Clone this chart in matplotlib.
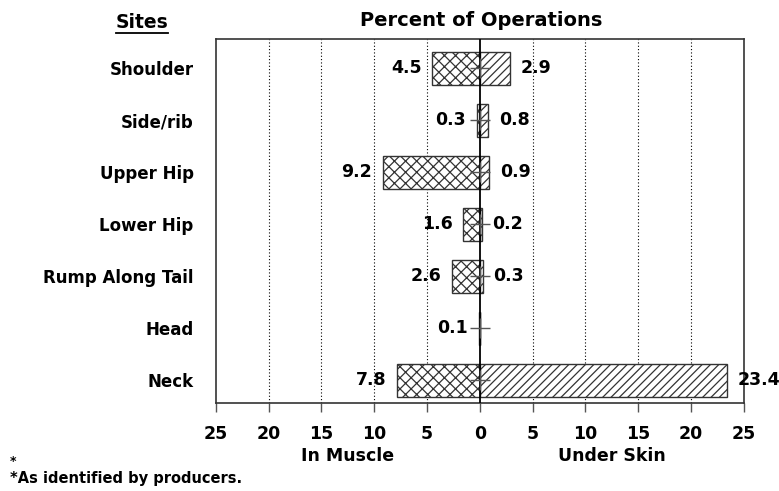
import matplotlib
matplotlib.use("Agg")
import matplotlib.pyplot as plt
import numpy as np

plt.rcParams['font.family'] = ['DejaVu Sans']
plt.rcParams['hatch.linewidth'] = 0.9

sites = ["Shoulder", "Side/rib", "Upper Hip", "Lower Hip", "Rump Along Tail", "Head", "Neck"]
in_muscle = [4.5, 0.3, 9.2, 1.6, 2.6, 0.1, 7.8]
under_skin = [2.9, 0.8, 0.9, 0.2, 0.3, 0.0, 23.4]
tick_vals = [-25, -20, -15, -10, -5, 0, 5, 10, 15, 20, 25]
tick_labels = [str(abs(v)) for v in tick_vals]

fig = plt.figure(figsize=(7.79, 4.91), dpi=100)
ax = fig.add_axes([0.277, 0.179, 0.678, 0.7413])

y = np.arange(len(sites))
h = 0.63
ax.barh(y, [-v for v in in_muscle], height=h, color='white', edgecolor='#333333',
        hatch='xxx', linewidth=1.0, zorder=3)
ax.barh(y, under_skin, height=h, color='white', edgecolor='#333333',
        hatch='////', linewidth=1.0, zorder=3)

ax.axvline(0, color='black', linewidth=1.3, zorder=4)
ax.plot(np.zeros(len(sites)), y, linestyle='none', marker='+', markersize=14,
        color='#555555', markeredgewidth=1.0, zorder=5)

for i, (m, s) in enumerate(zip(in_muscle, under_skin)):
    ax.text(-m - 1.0, i, f"{m:.1f}", ha='right', va='center', fontsize=12.5,
            fontweight='bold', zorder=6)
    if s > 0:
        ax.text(s + 1.0, i, f"{s:.1f}", ha='left', va='center', fontsize=12.5,
                fontweight='bold', zorder=6)

ax.set_xlim(-25, 25)
ax.set_ylim(6.44, -0.56)
ax.set_xticks(tick_vals)
ax.set_xticklabels(tick_labels, fontsize=12.5, fontweight='bold')
ax.set_yticks(y)
ax.set_yticklabels(sites, fontsize=12, fontweight='bold')
ax.tick_params(axis='y', length=0, pad=16)
ax.tick_params(axis='x', length=6.5, width=1, color='#555555', pad=9)
for v in tick_vals:
    if v not in (-25, 0, 25):
        ax.axvline(v, color='black', linestyle=(0, (1, 2)), linewidth=0.8, zorder=1)
for sp in ax.spines.values():
    sp.set_linewidth(1.2)
    sp.set_color('#333333')

fig.text(481 / 779, 1 - 20 / 491, "Percent of Operations", ha='center', va='center',
         fontsize=14, fontweight='bold')
fig.text(142 / 779, 1 - 22 / 491, "Sites", ha='center', va='center', fontsize=13.5,
         fontweight='bold')
fig.lines.append(plt.Line2D([116 / 779, 168 / 779], [1 - 33 / 491, 1 - 33 / 491],
                            color='black', linewidth=1.3, transform=fig.transFigure))
fig.text(348 / 779, 1 - 456 / 491, "In Muscle", ha='center', va='center', fontsize=12.5,
         fontweight='bold')
fig.text(612 / 779, 1 - 456 / 491, "Under Skin", ha='center', va='center', fontsize=12.5,
         fontweight='bold')
fig.text(10 / 779, 1 - 462 / 491, "*", ha='left', va='center', fontsize=9, fontweight='bold')
fig.text(10 / 779, 1 - 478 / 491, "*As identified by producers.", ha='left', va='center',
         fontsize=10.5, fontweight='bold')

fig.savefig("out.png", dpi=100)
